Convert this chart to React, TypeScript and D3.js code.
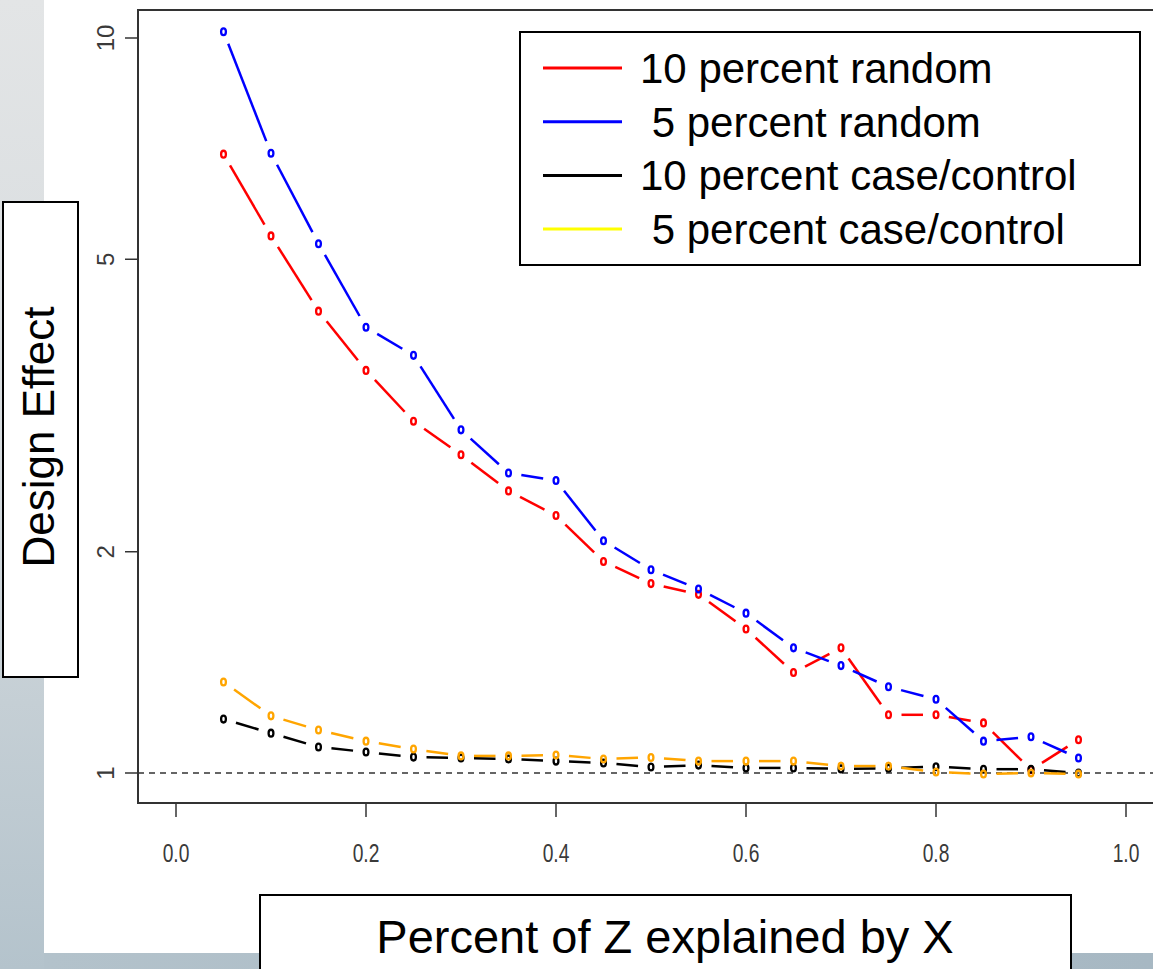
import React, { useEffect, useRef } from 'react';
import * as d3 from 'd3';

// share of Z explained by X
const xValues = [0.05, 0.1, 0.15, 0.2, 0.25, 0.3, 0.35, 0.4, 0.45, 0.5, 0.55, 0.6, 0.65, 0.7, 0.75, 0.8, 0.85, 0.9, 0.95];

const tenRandom = [6.95, 5.38, 4.25, 3.53, 3.01, 2.71, 2.42, 2.24, 1.94, 1.81, 1.75, 1.57, 1.37, 1.48, 1.2, 1.2, 1.17, 1.01, 1.11];
const fiveRandom = [10.2, 6.97, 5.25, 4.04, 3.7, 2.93, 2.56, 2.5, 2.07, 1.89, 1.78, 1.65, 1.48, 1.4, 1.31, 1.26, 1.105, 1.12, 1.048];
const tenCaseControl = [1.184, 1.133, 1.085, 1.068, 1.051, 1.048, 1.045, 1.038, 1.032, 1.019, 1.025, 1.016, 1.016, 1.013, 1.015, 1.02, 1.012, 1.012, 1.0];
const fiveCaseControl = [1.33, 1.196, 1.144, 1.105, 1.078, 1.055, 1.055, 1.058, 1.045, 1.05, 1.038, 1.038, 1.038, 1.022, 1.022, 1.003, 0.997, 1.0, 0.997];

const legendLabels = ['10 percent random', ' 5 percent random', '10 percent case/control', ' 5 percent case/control'];
const legendColors = ['#ff0000', '#0000ff', '#000000', '#ffff00'];

const xTicks = [0, 0.2, 0.4, 0.6, 0.8, 1.0];
const yTicks = [1, 2, 5, 10];

const W = 1153;
const H = 969;

const App = () => {
  const ref = useRef(null);

  useEffect(() => {
    const svg = d3.select(ref.current);
    svg.selectAll('*').remove();

    const x = d3.scaleLinear().domain([0, 1]).range([176, 1126]);
    const y = d3.scaleLog().domain([1, 10]).range([773, 38]);

    // backdrop
    const defs = svg.append('defs');
    const gl = defs.append('linearGradient').attr('id', 'leftBg').attr('x1', 0).attr('y1', 0).attr('x2', 0).attr('y2', 1);
    gl.append('stop').attr('offset', '0%').attr('stop-color', '#e3e5e6');
    gl.append('stop').attr('offset', '45%').attr('stop-color', '#d6dbde');
    gl.append('stop').attr('offset', '100%').attr('stop-color', '#b4c3cc');
    const gb = defs.append('linearGradient').attr('id', 'bottomBg').attr('x1', 0).attr('y1', 0).attr('x2', 1).attr('y2', 0);
    gb.append('stop').attr('offset', '0%').attr('stop-color', '#b3c2cb');
    gb.append('stop').attr('offset', '100%').attr('stop-color', '#a7b8c3');

    svg.append('rect').attr('width', W).attr('height', H).attr('fill', '#ffffff');
    svg.append('rect').attr('x', 0).attr('y', 0).attr('width', 44).attr('height', H).attr('fill', 'url(#leftBg)');
    svg.append('rect').attr('x', 44).attr('y', 953).attr('width', W - 44).attr('height', H - 953).attr('fill', 'url(#bottomBg)');

    // plot frame
    const left = x(-0.04);
    const right = x(1.04);
    svg.append('rect')
      .attr('x', left).attr('y', 10)
      .attr('width', right - left).attr('height', 793)
      .attr('fill', 'none').attr('stroke', '#333').attr('stroke-width', 2);

    // reference line at 1
    svg.append('line')
      .attr('x1', left).attr('x2', W)
      .attr('y1', y(1)).attr('y2', y(1))
      .attr('stroke', '#333').attr('stroke-width', 1.6)
      .attr('stroke-dasharray', '6,5');

    const tickFont = 'Arial, "Liberation Sans", sans-serif';

    // x axis
    const xAxis = svg.append('g');
    xAxis.selectAll('line').data(xTicks).enter().append('line')
      .attr('x1', (d) => x(d)).attr('x2', (d) => x(d))
      .attr('y1', 803).attr('y2', 817)
      .attr('stroke', '#333').attr('stroke-width', 1.5);
    xAxis.selectAll('text').data(xTicks).enter().append('text')
      .attr('transform', (d) => `translate(${x(d)},862) scale(0.74,1)`)
      .attr('text-anchor', 'middle')
      .style('font-family', tickFont)
      .style('font-size', '26px')
      .style('fill', '#3a3a3a')
      .text((d) => d3.format('.1f')(d));

    // y axis
    const yAxis = svg.append('g');
    yAxis.selectAll('line').data(yTicks).enter().append('line')
      .attr('x1', 125).attr('x2', 138)
      .attr('y1', (d) => y(d)).attr('y2', (d) => y(d))
      .attr('stroke', '#333').attr('stroke-width', 1.5);
    yAxis.selectAll('text').data(yTicks).enter().append('text')
      .attr('transform', (d) => `translate(114,${y(d)}) rotate(-90)`)
      .attr('text-anchor', 'middle')
      .style('font-family', tickFont)
      .style('font-size', '24px')
      .style('fill', '#3a3a3a')
      .text((d) => String(d));

    // series, drawn like R type = "b": open points, lines with gaps
    const series = [
      { values: tenRandom, color: '#ff0000' },
      { values: fiveRandom, color: '#0000ff' },
      { values: tenCaseControl, color: '#000000' },
      { values: fiveCaseControl, color: '#ffa500' },
    ];
    const gap = 13;
    series.forEach((s) => {
      const pts = xValues.map((xv, i) => [x(xv), y(s.values[i])]);
      const g = svg.append('g');
      const segs = d3.pairs(pts).filter(([a, b]) => Math.hypot(b[0] - a[0], b[1] - a[1]) > 2 * gap);
      const len = ([a, b]) => Math.hypot(b[0] - a[0], b[1] - a[1]);
      g.selectAll('line').data(segs).enter().append('line')
        .attr('x1', (d) => d[0][0] + ((d[1][0] - d[0][0]) * gap) / len(d))
        .attr('y1', (d) => d[0][1] + ((d[1][1] - d[0][1]) * gap) / len(d))
        .attr('x2', (d) => d[1][0] - ((d[1][0] - d[0][0]) * gap) / len(d))
        .attr('y2', (d) => d[1][1] - ((d[1][1] - d[0][1]) * gap) / len(d))
        .attr('stroke', s.color).attr('stroke-width', 2.5);
      g.selectAll('ellipse').data(pts).enter().append('ellipse')
        .attr('cx', (d) => d[0]).attr('cy', (d) => d[1])
        .attr('rx', 2.4).attr('ry', 3.4)
        .attr('fill', 'none').attr('stroke', s.color).attr('stroke-width', 2.3);
    });

    // legend
    const legend = svg.append('g');
    legend.append('rect')
      .attr('x', 520).attr('y', 32).attr('width', 620).attr('height', 233)
      .attr('fill', '#fff').attr('stroke', '#000').attr('stroke-width', 2);
    legendLabels.forEach((label, i) => {
      const cy = 68 + i * 53.7;
      legend.append('line')
        .attr('x1', 543).attr('x2', 622).attr('y1', cy).attr('y2', cy)
        .attr('stroke', legendColors[i]).attr('stroke-width', 3);
      legend.append('text')
        .attr('x', 640).attr('y', cy + 15)
        .style('font-family', 'Arial, "Liberation Sans", sans-serif')
        .style('font-size', '42px')
        .style('white-space', 'pre')
        .style('fill', '#000')
        .text(label);
    });

    // axis titles in boxes
    svg.append('rect')
      .attr('x', 3).attr('y', 202).attr('width', 75).attr('height', 475)
      .attr('fill', '#fff').attr('stroke', '#000').attr('stroke-width', 2);
    svg.append('text')
      .attr('transform', 'translate(54,437) rotate(-90)')
      .attr('text-anchor', 'middle')
      .style('font-family', 'Arial, "Liberation Sans", sans-serif')
      .style('font-size', '44px')
      .style('fill', '#000')
      .text('Design Effect');

    svg.append('rect')
      .attr('x', 260).attr('y', 895).attr('width', 811).attr('height', 90)
      .attr('fill', '#fff').attr('stroke', '#000').attr('stroke-width', 2);
    svg.append('text')
      .attr('x', 665).attr('y', 953)
      .attr('text-anchor', 'middle')
      .style('font-family', 'Arial, "Liberation Sans", sans-serif')
      .style('font-size', '47px')
      .style('fill', '#000')
      .text('Percent of Z explained by X');
  }, []);

  return (
    <svg ref={ref} width={W} height={H} style={{ position: 'absolute', left: 0, top: 0 }} />
  );
};

export default App;
